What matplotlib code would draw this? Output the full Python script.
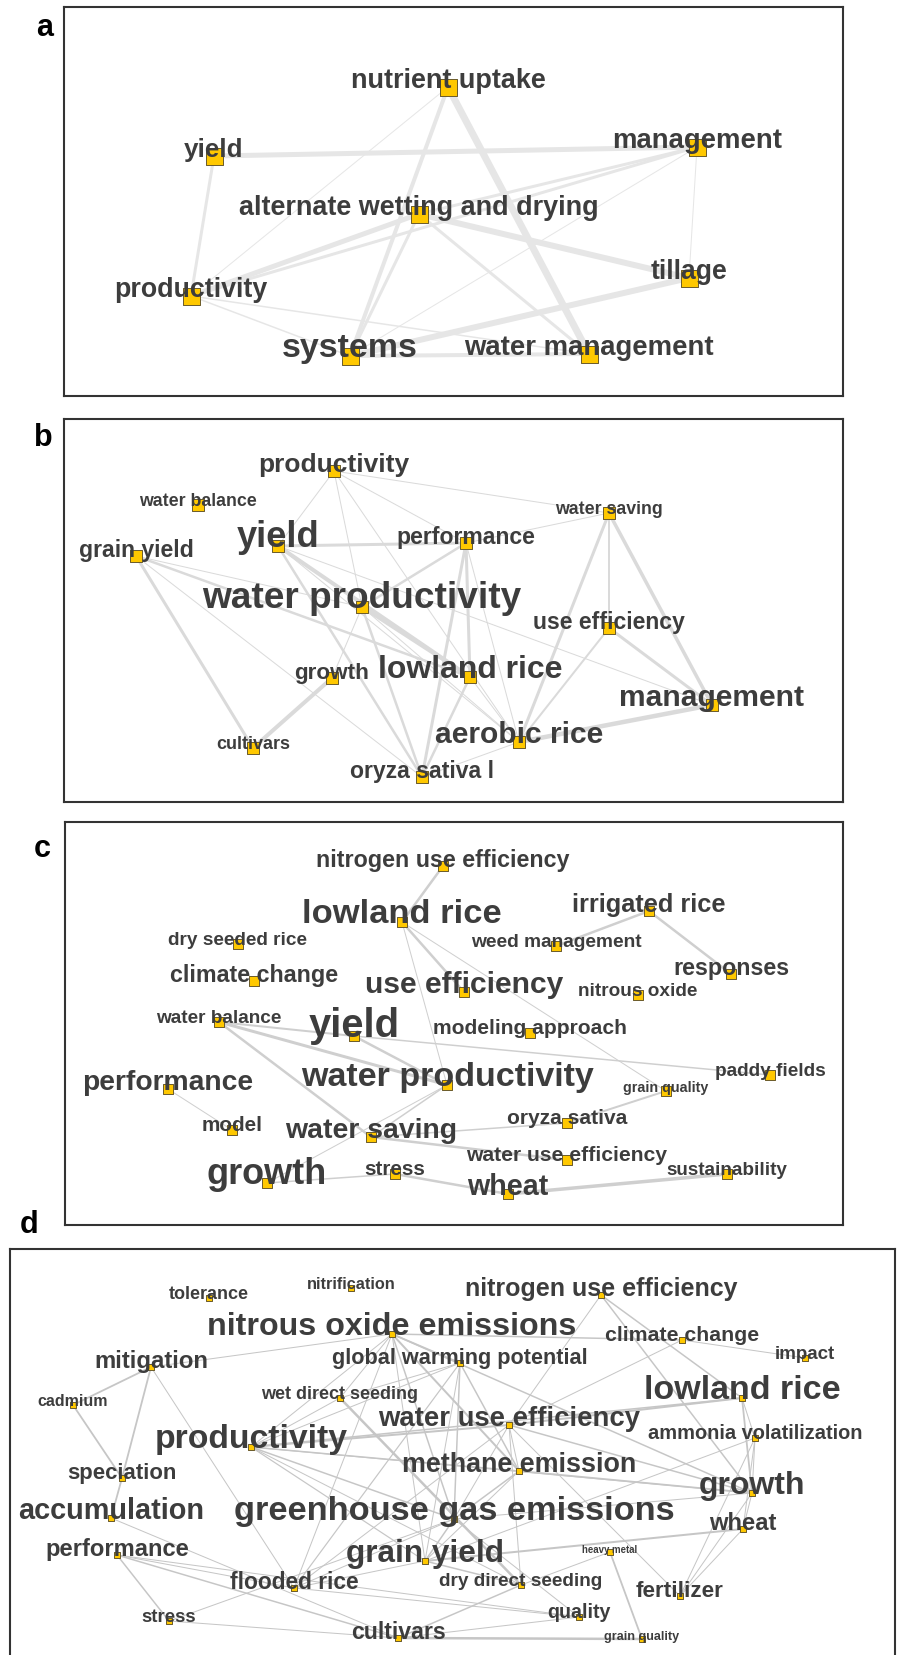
import matplotlib.pyplot as plt

W, H = 898, 1656
TEXT_COLOR = "#3d3d3d"
FONT = "Liberation Sans"

# ---------------- panel a ----------------
a_terms = ["nutrient uptake", "yield", "management", "alternate wetting and drying",
           "tillage", "productivity", "systems", "water management"]
a_x = [448, 214, 697, 419, 689, 191, 350, 589]
a_y = [88, 157, 148, 215, 279, 297, 357, 355]
a_weight = [27, 26, 27.5, 27, 26.5, 26.7, 34, 27.5]
a_links = [(0, 6, 4), (3, 6, 3), (0, 7, 7), (0, 5, 1), (1, 2, 5), (1, 5, 3),
           (2, 3, 3), (2, 5, 3), (2, 6, 1), (2, 4, 1), (3, 5, 5), (3, 4, 6),
           (3, 7, 3), (4, 6, 6), (5, 6, 1.5), (5, 7, 1.5), (6, 7, 4)]

# ---------------- panel b ----------------
b_terms = ["productivity", "water balance", "yield", "grain yield", "water productivity",
           "growth", "lowland rice", "cultivars", "oryza sativa l", "performance",
           "water saving", "use efficiency", "management", "aerobic rice"]
b_x = [334, 198, 278, 136, 362, 332, 470, 253, 422, 466, 609, 609, 712, 519]
b_y = [472, 506, 547, 557, 608, 679, 678, 749, 778, 544, 514, 629, 706, 743]
b_weight = [26.4, 17.8, 36.3, 23, 37, 22.5, 32, 18, 23, 23, 17.8, 23, 30, 30]
b_links = [(0, 10, 1), (0, 2, 1), (0, 4, 1), (0, 9, 1), (0, 13, 1),
           (2, 9, 3), (2, 6, 4), (2, 8, 2.5), (2, 12, 1), (2, 13, 1),
           (3, 7, 3), (3, 6, 2.5), (3, 8, 1), (3, 4, 1),
           (4, 9, 2.5), (4, 6, 3.5), (4, 5, 1), (4, 8, 2.5), (4, 13, 1),
           (5, 7, 4), (9, 6, 3), (9, 8, 3), (9, 13, 1), (9, 10, 1),
           (6, 8, 2.5), (6, 13, 1), (10, 11, 2), (10, 13, 3), (10, 12, 3.5),
           (11, 13, 2), (11, 12, 3), (13, 12, 4.5), (13, 8, 1)]

# ---------------- panel c ----------------
c_terms = ["nitrogen use efficiency", "lowland rice", "dry seeded rice", "climate change",
           "use efficiency", "water balance", "yield", "water productivity", "performance",
           "model", "water saving", "growth", "stress", "irrigated rice", "weed management",
           "responses", "nitrous oxide", "modeling approach", "paddy fields", "grain quality",
           "oryza sativa", "water use efficiency", "sustainability", "wheat"]
c_x = [443, 402, 238, 254, 464, 219, 354, 447, 168, 232, 371, 267, 395,
       649, 556, 731, 638, 530, 770, 666, 567, 567, 727, 508]
c_y = [867, 923, 945, 982, 993, 1023, 1037, 1086, 1090, 1131, 1138, 1184, 1175,
       912, 947, 975, 996, 1034, 1076, 1092, 1124, 1161, 1175, 1195]
c_weight = [23.2, 34.5, 19, 23.3, 30, 19, 40, 34, 28.2, 20.8, 28.4, 36, 20.6,
            25.4, 19.1, 23.2, 19, 21, 19, 14.2, 21, 21.2, 18.9, 28.6]
c_links = [(0, 1, 2.5), (1, 4, 2.5), (1, 7, 1), (1, 19, 1), (13, 14, 2.5), (13, 15, 2.5),
           (5, 6, 2), (5, 7, 3), (5, 10, 2.5), (6, 7, 2.5), (6, 18, 1.5), (7, 10, 1.5),
           (7, 11, 1), (8, 9, 1), (10, 20, 1.5), (10, 21, 2.5), (11, 12, 1.5),
           (12, 23, 2.5), (23, 22, 3.5), (20, 19, 2)]

# ---------------- panel d ----------------
d_terms = ["tolerance", "nitrification", "nitrous oxide emissions", "mitigation", "cadmium",
           "wet direct seeding", "productivity", "speciation", "accumulation", "performance",
           "flooded rice", "stress", "cultivars", "grain yield", "nitrogen use efficiency",
           "climate change", "impact", "global warming potential", "lowland rice",
           "water use efficiency", "ammonia volatilization", "methane emission", "growth",
           "greenhouse gas emissions", "wheat", "heavy metal", "dry direct seeding",
           "fertilizer", "quality", "grain quality"]
d_x = [209, 351, 392, 151, 73, 340, 251, 122, 111, 117, 294, 169, 398, 425, 601,
       682, 805, 460, 742, 509, 755, 519, 752, 454, 743, 610, 521, 680, 579, 642]
d_y = [1299, 1289, 1335, 1368, 1406, 1399, 1448, 1479, 1519, 1556, 1589, 1622, 1639, 1562, 1296,
       1341, 1359, 1364, 1399, 1426, 1439, 1472, 1494, 1520, 1530, 1553, 1586, 1597, 1618, 1640]
d_weight = [18, 16.2, 32.3, 23.9, 16, 18, 33.8, 22.2, 28.9, 23.8, 22.8, 18.7, 23.1, 31.5, 25,
            21.3, 18.8, 21.6, 34, 27.5, 20, 26.9, 32, 34.4, 23.8, 9.6, 19, 22.5, 19.6, 12.6]
d_links = [(2, 3, 1), (2, 15, 1.5), (2, 17, 1.8), (2, 21, 2), (2, 23, 1.5), (2, 6, 1),
           (2, 10, 1), (2, 22, 1.5), (2, 5, 1), (2, 13, 1),
           (14, 19, 1), (14, 18, 1.5), (14, 22, 1.5), (15, 16, 1), (15, 19, 1),
           (17, 21, 1.5), (17, 23, 1.5), (17, 10, 1.2), (17, 6, 1), (17, 13, 1),
           (18, 19, 2), (18, 6, 1.5), (18, 22, 1.8), (18, 20, 1),
           (20, 22, 1), (20, 13, 1), (20, 27, 1), (20, 24, 1),
           (22, 24, 1), (22, 27, 1), (22, 21, 1.8), (22, 19, 1.5), (22, 23, 1), (22, 6, 1),
           (24, 13, 2), (24, 27, 1), (25, 29, 1.8), (25, 26, 1),
           (12, 29, 2.5), (12, 28, 1), (12, 11, 1), (12, 9, 1.5), (12, 8, 1), (12, 26, 1.5),
           (28, 10, 1), (9, 11, 1.5), (9, 10, 1), (9, 28, 1), (8, 7, 1.8),
           (7, 4, 1.8), (7, 3, 1.8), (3, 4, 1.8), (3, 10, 1), (11, 23, 1),
           (5, 26, 2.5), (5, 6, 1), (5, 17, 1),
           (6, 19, 2), (6, 21, 1.5), (6, 23, 1.5), (6, 13, 1.2), (6, 26, 1),
           (19, 23, 1), (19, 21, 1), (19, 10, 1), (19, 27, 1), (19, 26, 1),
           (21, 23, 1.5), (21, 13, 1), (23, 13, 1.5), (23, 10, 1), (23, 28, 1),
           (10, 13, 1), (26, 13, 1.5)]

panels = [
    # letter, letter pos, box (left, top, right, bottom), data, edge colour, node size
    ("a", (45, 36), (64, 8, 843, 397), (a_terms, a_x, a_y, a_weight, a_links), "#e6e6e6", 17),
    ("b", (43, 446), (64, 420, 843, 803), (b_terms, b_x, b_y, b_weight, b_links), "#dadada", 12),
    ("c", (42, 857), (65, 823, 843, 1226), (c_terms, c_x, c_y, c_weight, c_links), "#cfcfcf", 10),
    ("d", (29, 1233), (10, 1250, 895, 1672), (d_terms, d_x, d_y, d_weight, d_links), "#c6c6c6", 6.5),
]

fig = plt.figure(figsize=(W / 100, H / 100), dpi=100)

for letter, (lx, ly), (l, t, r, b), (terms, xs, ys, weights, links), ecol, nsize in panels:
    ax = fig.add_axes([l / W, 1 - b / H, (r - l) / W, (b - t) / H])
    ax.set_xlim(l, r)
    ax.set_ylim(b, t)
    ax.set_xticks([])
    ax.set_yticks([])
    for sp in ax.spines.values():
        sp.set_color("#333333")
        sp.set_linewidth(1.5)

    for i, j, w in links:
        ax.plot([xs[i], xs[j]], [ys[i], ys[j]], color=ecol, lw=w * 0.72,
                solid_capstyle="butt", zorder=1)

    ax.scatter(xs, ys, marker="s", s=(nsize * 0.72) ** 2, color="#ffc800",
               edgecolors="#6a5a2a", linewidths=0.7, zorder=2)

    for name, x, y, wt in zip(terms, xs, ys, weights):
        ax.text(x, y, name, fontsize=wt * 0.72, fontweight="bold", color=TEXT_COLOR,
                ha="center", va="baseline", family=FONT, zorder=3)

    fig.text(lx / W, 1 - ly / H, letter, fontsize=22, fontweight="bold",
             ha="center", va="baseline", family=FONT, color="black")

fig.savefig("out.png", dpi=100)
